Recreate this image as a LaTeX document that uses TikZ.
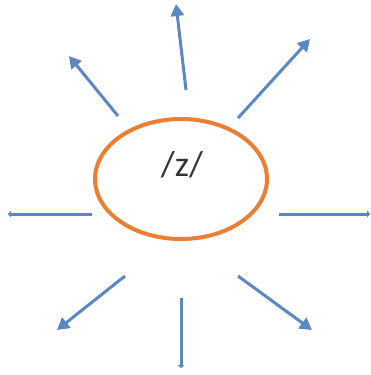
\documentclass[tikz,border=0pt]{standalone}
\usepackage{fontspec}
\setsansfont{Carlito}
\usetikzlibrary{arrows.meta,shapes.geometric}
\definecolor{soundorange}{HTML}{ED7D31}
\definecolor{rayblue}{HTML}{5B87C5}

\begin{document}
\begin{tikzpicture}[
    x=1pt, y=-1pt,
    sound/.style={draw=soundorange, line width=4pt, ellipse, minimum width=172pt, minimum height=120pt},
    phoneme/.style={font=\sffamily\fontsize{36}{40}\selectfont, text=black!80},
    ray/.style={draw=rayblue, line width=3pt, -{Triangle[length=12pt,width=13pt]}},
    stub/.style={draw=rayblue, line width=3pt, -{Triangle[length=3pt,width=7pt]}}
  ]
    \useasboundingbox (0,0) rectangle (371,375);
    \node[sound] (zsound) at (181,179) {};
    \node[phoneme] (ztext) at (182,165) {/z/};
    % start and end points of the rays
    \coordinate (topa) at (186,90);   \coordinate (topb) at (176,4);
    \coordinate (ula) at (118,116);   \coordinate (ulb) at (69,56);
    \coordinate (ura) at (238,118);   \coordinate (urb) at (310,39);
    \coordinate (lefta) at (92,214);  \coordinate (leftb) at (8,214);
    \coordinate (righta) at (279,214); \coordinate (rightb) at (370,214);
    \coordinate (lla) at (125,276);   \coordinate (llb) at (57,330);
    \coordinate (lra) at (238,276);   \coordinate (lrb) at (312,330);
    \coordinate (bota) at (181,298);  \coordinate (botb) at (181,368);
    \draw[ray] (topa) -- (topb);
    \draw[ray] (ula) -- (ulb);
    \draw[ray] (ura) -- (urb);
    \draw[ray] (lla) -- (llb);
    \draw[ray] (lra) -- (lrb);
    \draw[stub] (lefta) -- (leftb);
    \draw[stub] (righta) -- (rightb);
    \draw[stub] (bota) -- (botb);
  \end{tikzpicture}
\end{document}
